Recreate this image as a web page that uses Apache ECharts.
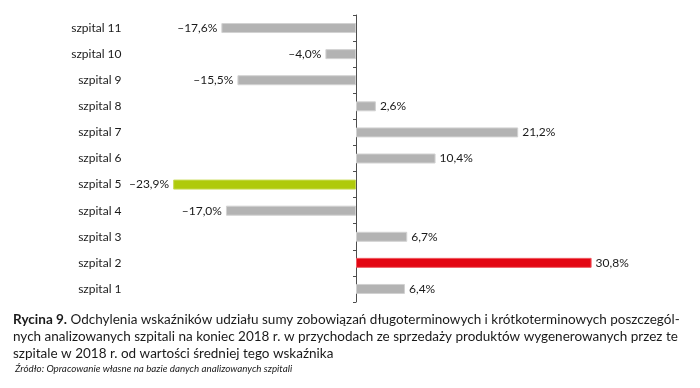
<!DOCTYPE html>
<html>
<head>
<meta charset="utf-8">
<script src="https://cdn.jsdelivr.net/npm/echarts@6/dist/echarts.min.js"></script>
<style>
html,body{margin:0;padding:0;background:#fff;}
#chart{width:700px;height:388px;}
</style>
</head>
<body>
<div id="chart"></div>
<script>
const categories = ['szpital 1','szpital 2','szpital 3','szpital 4','szpital 5','szpital 6','szpital 7','szpital 8','szpital 9','szpital 10','szpital 11'];
const values = [6.4, 30.8, 6.7, -17.0, -23.9, 10.4, 21.2, 2.6, -15.5, -4.0, -17.6];
const highlightRed = 'szpital 2';
const highlightGreen = 'szpital 5';
const captionBold = 'Rycina 9.';
const captionLines = [
  ' Odchylenia wskaźników udziału sumy zobowiązań długoterminowych i krótkoterminowych poszczegól-',
  'nych analizowanych szpitali na koniec 2018 r. w przychodach ze sprzedaży produktów wygenerowanych przez te',
  'szpitale w 2018 r. od wartości średniej tego wskaźnika'
];
const sourceText = 'Źródło: Opracowanie własne na bazie danych analizowanych szpitali';

const fmt = v => (v < 0 ? '\u2013' : '') + Math.abs(v).toFixed(1).replace('.', ',') + '%';

const seriesData = values.map((v, i) => {
  let color = '#b3b3b3', border = '#d2d2d2';
  if (categories[i] === highlightRed) { color = '#e30613'; border = '#ef5a62'; }
  if (categories[i] === highlightGreen) { color = '#afca0b'; border = '#c8db55'; }
  return {
    value: v,
    itemStyle: { color: color, borderColor: border, borderWidth: 1 },
    label: { position: v < 0 ? 'left' : 'right' }
  };
});

const chart = echarts.init(document.getElementById('chart'), null, { renderer: 'canvas' });
const font = 'Lato';
chart.setOption({
  animation: false,
  grid: { left: 126.5, right: 38, top: 15, bottom: 86 },
  xAxis: { type: 'value', min: -30, max: 40, show: false },
  yAxis: [
    {
      type: 'category', data: categories,
      axisLine: { show: true, onZero: true, lineStyle: { color: '#4d4d4d', width: 1 } },
      axisTick: { show: true, length: 3, lineStyle: { color: '#4d4d4d' } },
      axisLabel: { show: false },
      splitLine: { show: false }
    },
    {
      type: 'category', data: categories, position: 'left',
      axisLine: { show: false, onZero: false },
      axisTick: { show: false },
      axisLabel: { show: true, margin: 5, color: '#1a1a1a', fontFamily: font, fontSize: 12 },
      splitLine: { show: false }
    }
  ],
  series: [{
    type: 'bar', yAxisIndex: 0, data: seriesData, barWidth: 10,
    label: {
      show: true, distance: 4, color: '#1a1a1a', fontFamily: font, fontSize: 12,
      formatter: p => fmt(p.value)
    }
  }],
  graphic: [
    { type: 'text', left: 13, top: 313, style: {
      text: '{b|' + captionBold + '}{r|' + captionLines[0] + '}',
      rich: {
        b: { fontFamily: font, fontWeight: 'bold', fontSize: 13.5, fill: '#1a1a1a' },
        r: { fontFamily: font, fontSize: 13.5, fill: '#1a1a1a' }
      }
    }},
    { type: 'text', left: 13, top: 330, style: { text: captionLines[1], fontFamily: font, fontSize: 13.5, fill: '#1a1a1a' } },
    { type: 'text', left: 13, top: 347, style: { text: captionLines[2], fontFamily: font, fontSize: 13.5, fill: '#1a1a1a' } },
    { type: 'text', left: 15, top: 364, style: { text: sourceText, fontFamily: font, fontStyle: 'italic', fontSize: 9.8, fill: '#1a1a1a' } }
  ]
});
</script>
</body>
</html>
